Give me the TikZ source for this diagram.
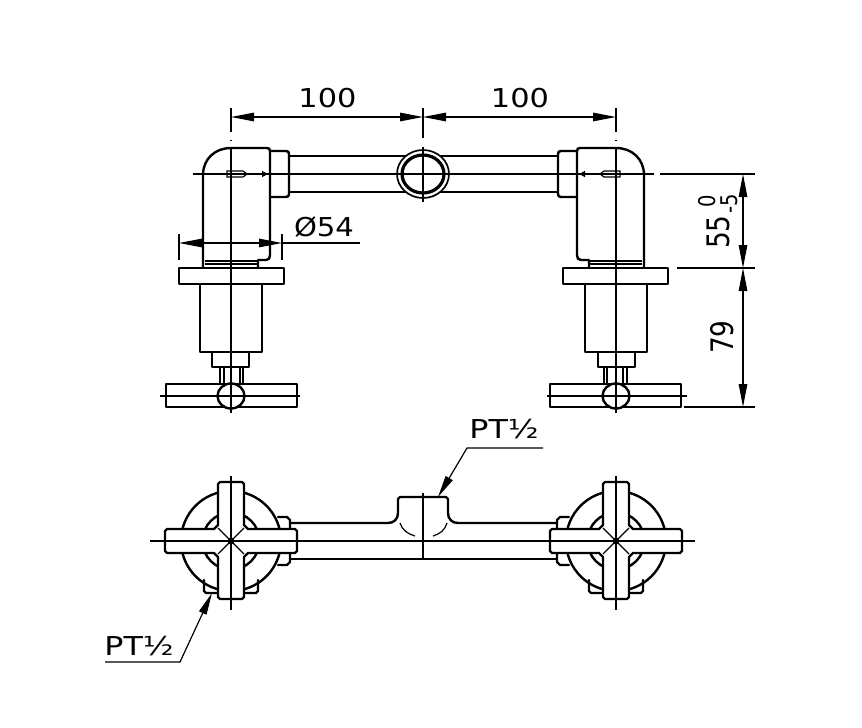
\documentclass[tikz,border=0pt]{standalone}
\usepackage{graphicx}
\usepackage{fontspec}
\setmainfont{DejaVu Sans}
\usetikzlibrary{arrows.meta}
\newcommand{\widetxt}[1]{\scalebox{1.17}[1]{#1}}
\newcommand{\tighttxt}[1]{\scalebox{.85}[1]{#1}}
\tikzset{
  thick line/.style={line width=2.4pt,line join=round,line cap=round},
  thin line/.style={line width=1.2pt},
  dimarrow/.style={thin line,{Triangle[length=23pt,width=8.5pt]}-{Triangle[length=23pt,width=8.5pt]}},
  leaderline/.style={thin line,-{Triangle[length=22pt,width=8pt]}},
  dimtext/.style={inner sep=0pt,font=\fontsize{26}{26}\selectfont},
  tallstext/.style={inner sep=0pt,font=\fontsize{31}{31}\selectfont},
  smalltext/.style={inner sep=0pt,font=\fontsize{23}{23}\selectfont},
}
\newcommand{\valvefront}{%
  % elbow body
  \draw[thick line] (203,268) -- (203,175) .. controls (203,159) and (215,148) .. (231,148)
     -- (267,148) .. controls (269,148) and (270,149) .. (270,151)
     -- (270,255) .. controls (270,258) and (269,260) .. (266,260) -- (258,260) -- (258,268);
  \draw[thin line] (205,261) -- (258,261) (205,264) -- (258,264);
  % collar
  \draw[thick line] (270,151) -- (286,151) .. controls (288,151) and (289,152) .. (289,154)
     -- (289,194) .. controls (289,196) and (288,197) .. (286,197) -- (270,197);
  % flange, cylinder, step, stem, handle
  \draw[thick line] (179,268) rectangle (284,284);
  \draw[thick line] (200,284) -- (200,352) -- (262,352) -- (262,284);
  \draw[thick line] (212,352) -- (212,367) -- (249,367) -- (249,352);
  \draw[thick line] (220,367) -- (220,384) (243,367) -- (243,384);
  \draw[thin line] (224,367) -- (224,384) (240,367) -- (240,384);
  \draw[thick line] (166,384) rectangle (297,407);
  \draw[thick line,fill=white] (231,396) ellipse [x radius=13.5,y radius=12.5];
  % small tube with arrow
  \draw[thin line] (227,171) -- (243,171) -- (247,174) -- (243,177) -- (227,177) -- cycle;
  \draw[thin line,-{Triangle[length=6pt,width=6pt]}] (247,174) -- (268,174);
  % centre lines
  \draw[thin line] (231,108) -- (231,132);
  \draw[thin line] (231,140) -- (231,141);
  \draw[thin line] (231,147) -- (231,413);
  \draw[thin line] (160,396) -- (300,396);
}
\newcommand{\valveplan}{%
  \draw[thick line] (204,580) -- (204,591) -- (206,593) -- (218,593);
  \draw[thick line] (258,580) -- (258,591) -- (256,593) -- (244,593);
  \draw[thick line] (278,517) -- (287,517) -- (290,520) -- (290,562) -- (287,565) -- (278,565);
  \draw[thick line] (231,541) circle [radius=50];
  \draw[thick line] (231,541) circle [radius=28.5];
  \draw[thick line,fill=white] (218,484) -- (220,482) -- (242,482) -- (244,484) -- (244,525) -- (248,529)
     -- (295,529) -- (297,531) -- (297,551) -- (295,553) -- (248,553) -- (244,557) -- (244,597) -- (242,599)
     -- (220,599) -- (218,597) -- (218,557) -- (214,553) -- (167,553) -- (165,551) -- (165,531) -- (167,529)
     -- (214,529) -- (218,525) -- cycle;
  \draw[thin line] (218,528) -- (244,554) (244,528) -- (218,554);
  \fill (231,541) circle [radius=3.4];
  \draw[thin line] (231,476) -- (231,610);
}
\begin{document}
\begin{tikzpicture}[x=1pt,y=-1pt]
  \useasboundingbox[fill=white] (0,0) rectangle (862,728);

  % front view: pipe
  \draw[thick line] (289,156) -- (558,156) (289,192) -- (558,192);
  \valvefront
  \begin{scope}[shift={(847,0)},xscale=-1]
    \valvefront
  \end{scope}
  \draw[line width=1.7pt,fill=white] (423,174) ellipse [x radius=26,y radius=24];
  \draw[line width=3.2pt] (423,174) ellipse [x radius=21,y radius=19];
  \draw[thin line] (193,174) -- (654,174);
  \draw[thin line] (423,147) -- (423,202);

  % dimensions across the top
  \draw[thin line] (423,108) -- (423,138);
  \coordinate (leftaxis) at (231,117);
  \coordinate (midaxis) at (423,117);
  \coordinate (rightaxis) at (616,117);
  \draw[dimarrow] (leftaxis) -- (midaxis);
  \draw[dimarrow] (midaxis) -- (rightaxis);
  \node[dimtext] (dimA) at (327.5,98) {\widetxt{100}};
  \node[dimtext] (dimB) at (520,98) {\widetxt{100}};

  % diameter
  \coordinate (diaL) at (179,243);
  \coordinate (diaR) at (282,243);
  \coordinate (diaEnd) at (360,243);
  \draw[thin line] (179,234) -- (179,260) (282,234) -- (282,260);
  \draw[dimarrow] (diaL) -- (diaR);
  \draw[thin line] (diaR) -- (diaEnd);
  \node[dimtext] (dimDia) at (324,227) {\scalebox{1.12}[1]{Ø54}};

  % right side dimensions
  \draw[thin line] (660,174) -- (755,174);
  \draw[thin line] (677,268) -- (755,268);
  \draw[thin line] (684,407) -- (755,407);
  \coordinate (hA) at (743,174);
  \coordinate (hB) at (743,268);
  \coordinate (hC) at (743,407);
  \draw[dimarrow] (hA) -- (hB);
  \draw[dimarrow] (hB) -- (hC);
  \node[tallstext,rotate=90] (dim55) at (718,232) {\tighttxt{55}};
  \node[smalltext,rotate=90] (dimUp) at (707,201) {\tighttxt{0}};
  \node[smalltext,rotate=90] (dimLo) at (729,204) {\tighttxt{-5}};
  \node[tallstext,rotate=90] (dim79) at (722,337) {\tighttxt{79}};

  % plan view
  \draw[thick line] (290,523) -- (388,523) .. controls (394,523) and (398,519) .. (398,513)
     -- (398,499) -- (400,497) -- (446,497) -- (448,499) -- (448,513)
     .. controls (448,519) and (452,523) .. (458,523) -- (557,523);
  \draw[thick line] (290,559) -- (557,559);
  \valveplan
  \begin{scope}[shift={(847,0)},xscale=-1]
    \valveplan
  \end{scope}
  \draw[thin line] (150,541) -- (695,541);
  \draw[line width=1.6pt] (423,493) -- (423,559);
  \draw[thin line] (400,523) .. controls (402,530) and (408,534) .. (415,536);
  \draw[thin line] (447,523) .. controls (445,530) and (440,534) .. (433,536);

  % leaders
  \node[dimtext] (ptTop) at (504,429) {\scalebox{1.22}[1]{PT½}};
  \coordinate (topEnd) at (543,448);
  \coordinate (topKnee) at (467,448);
  \coordinate (topTip) at (438,497);
  \draw[leaderline] (topEnd) -- (topKnee) -- (topTip);
  \node[dimtext] (ptLow) at (139,646) {\scalebox{1.22}[1]{PT½}};
  \coordinate (lowEnd) at (105,662);
  \coordinate (lowKnee) at (180,662);
  \coordinate (lowTip) at (212,593);
  \draw[leaderline] (lowEnd) -- (lowKnee) -- (lowTip);
\end{tikzpicture}
\end{document}
